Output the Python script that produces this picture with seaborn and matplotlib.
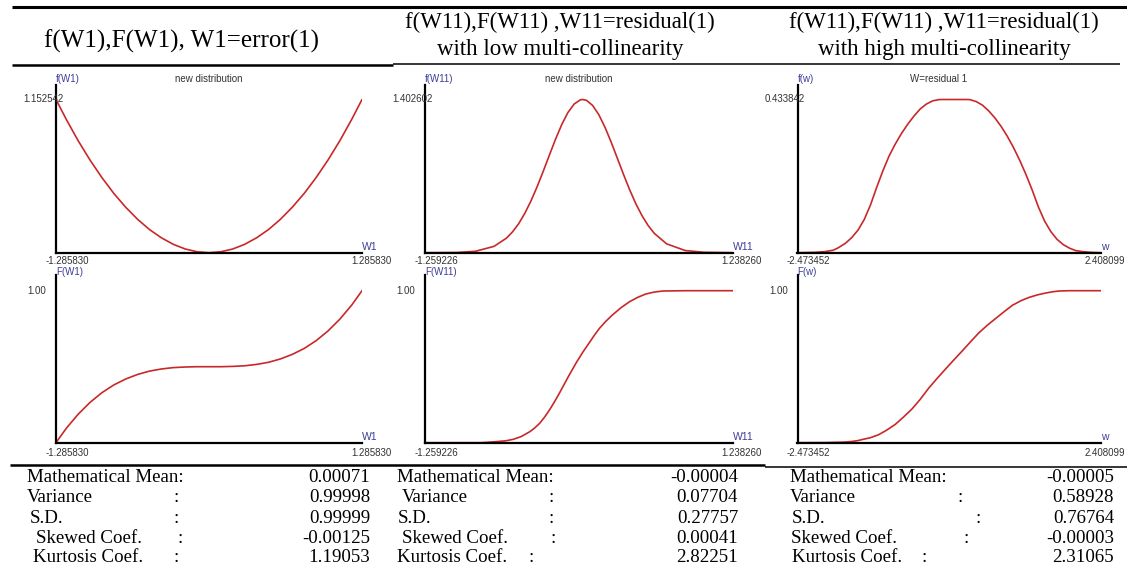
import matplotlib
matplotlib.use("Agg")
import matplotlib.pyplot as plt
import seaborn as sns

# ══════════════════════════════════════════════════════════════
# Data
# ══════════════════════════════════════════════════════════════
HEADER_LINES = [
    ["f(W1),F(W1), W1=error(1)"],
    ["f(W11),F(W11) ,W11=residual(1)", "with low multi-collinearity"],
    ["f(W11),F(W11) ,W11=residual(1)", "with high multi-collinearity"],
]
PANEL_TITLES = ["new distribution", "new distribution", "W=residual 1"]
PDF_NAMES = ["f(W1)", "f(W11)", "f(w)"]
CDF_NAMES = ["F(W1)", "F(W11)", "F(w)"]
AXIS_NAMES = ["W1", "W11", "w"]

X_MIN = [-1.285830, -1.259226, -2.473452]
X_MAX = [1.285830, 1.238260, 2.408099]
PDF_MAX = [1.152542, 1.402602, 0.433842]
CDF_MAX = 1.00

# f(W1), W1 = error(1)
W1_PDF_X = [-1.28583, -1.2, -1.1, -1.0, -0.9, -0.8, -0.7, -0.6, -0.5, -0.4, -0.3, -0.2, -0.1, 0.0,
            0.1, 0.2, 0.3, 0.4, 0.5, 0.6, 0.7, 0.8, 0.9, 1.0, 1.1, 1.2, 1.28583]
W1_PDF_Y = [1.1525, 1.004, 0.843, 0.697, 0.565, 0.446, 0.342, 0.251, 0.174, 0.112, 0.063, 0.028, 0.007, 0.0,
            0.007, 0.028, 0.063, 0.112, 0.174, 0.251, 0.342, 0.446, 0.565, 0.697, 0.843, 1.004, 1.1525]
W1_CDF_X = W1_PDF_X
W1_CDF_Y = [0.0, 0.094, 0.187, 0.265, 0.329, 0.380, 0.419, 0.449, 0.471, 0.485, 0.494, 0.498, 0.500, 0.500,
            0.500, 0.502, 0.506, 0.515, 0.529, 0.551, 0.581, 0.620, 0.671, 0.735, 0.813, 0.906, 1.0]

# f(W11), low multi-collinearity
LOW_PDF_X = [-1.259226, -1.0, -0.85, -0.7, -0.6, -0.55, -0.5, -0.45, -0.4, -0.35, -0.3, -0.25, -0.2,
             -0.15, -0.1, -0.05, 0.0, 0.02, 0.05, 0.1, 0.15, 0.2, 0.25, 0.3, 0.35, 0.4, 0.45, 0.5,
             0.55, 0.6, 0.7, 0.85, 1.0, 1.23826]
LOW_PDF_Y = [0.0, 0.002, 0.013, 0.058, 0.132, 0.190, 0.265, 0.360, 0.474, 0.604, 0.747, 0.895, 1.041,
             1.174, 1.284, 1.361, 1.399, 1.4026, 1.395, 1.348, 1.264, 1.149, 1.013, 0.866, 0.718, 0.577,
             0.449, 0.340, 0.249, 0.177, 0.081, 0.020, 0.004, 0.0]
LOW_CDF_X = [-1.259226, -0.8, -0.68, -0.6, -0.545, -0.48, -0.41, -0.37, -0.33, -0.29, -0.25, -0.21,
             -0.17, -0.13, -0.09, -0.03, 0.02, 0.075, 0.115, 0.155, 0.205, 0.26, 0.33, 0.40, 0.465,
             0.53, 0.60, 0.67, 0.85, 1.23826]
LOW_CDF_Y = [0.0, 0.0, 0.007, 0.013, 0.022, 0.040, 0.072, 0.097, 0.127, 0.168, 0.215, 0.268,
             0.325, 0.385, 0.445, 0.530, 0.595, 0.660, 0.708, 0.752, 0.797, 0.840, 0.888, 0.928, 0.956,
             0.978, 0.991, 0.998, 1.0, 1.0]

# f(w), high multi-collinearity
HIGH_PDF_X = [-2.473452, -2.2, -2.032, -1.9, -1.817, -1.7, -1.6, -1.5, -1.4, -1.3, -1.2, -1.1, -1.0,
              -0.9, -0.8, -0.7, -0.6, -0.5, -0.4, -0.3, -0.2, -0.148, 0.229, 0.3, 0.4, 0.5, 0.6, 0.7,
              0.8, 0.9, 1.0, 1.1, 1.2, 1.3, 1.4, 1.5, 1.6, 1.7, 1.8, 1.9, 2.0, 2.113, 2.25, 2.408099]
HIGH_PDF_Y = [0.0, 0.001, 0.003, 0.007, 0.014, 0.027, 0.043, 0.064, 0.094, 0.135, 0.185, 0.232, 0.274,
              0.308, 0.338, 0.364, 0.387, 0.407, 0.421, 0.430, 0.4335, 0.433842, 0.433842, 0.4335,
              0.428, 0.418, 0.402, 0.382, 0.358, 0.330, 0.298, 0.262, 0.222, 0.178, 0.130, 0.090,
              0.060, 0.038, 0.023, 0.013, 0.006, 0.003, 0.001, 0.0]
HIGH_CDF_X = [-2.473452, -2.0, -1.709, -1.6, -1.5, -1.44, -1.3, -1.171, -1.05, -0.902, -0.77, -0.632,
              -0.5, -0.363, -0.23, -0.094, 0.04, 0.175, 0.31, 0.444, 0.58, 0.713, 0.85, 0.983, 1.12,
              1.252, 1.39, 1.521, 1.63, 1.736, 1.9, 2.408099]
HIGH_CDF_Y = [0.0, 0.001, 0.004, 0.008, 0.014, 0.020, 0.033, 0.052, 0.080, 0.120, 0.168, 0.222,
              0.285, 0.359, 0.422, 0.484, 0.544, 0.603, 0.664, 0.723, 0.773, 0.817, 0.862, 0.904, 0.934,
              0.956, 0.973, 0.985, 0.993, 0.998, 1.0, 1.0]

PDF_X = [W1_PDF_X, LOW_PDF_X, HIGH_PDF_X]
PDF_Y = [W1_PDF_Y, LOW_PDF_Y, HIGH_PDF_Y]
CDF_X = [W1_CDF_X, LOW_CDF_X, HIGH_CDF_X]
CDF_Y = [W1_CDF_Y, LOW_CDF_Y, HIGH_CDF_Y]

STAT_LABELS = ["Mathematical Mean:", "Variance", "S.D.", "Skewed Coef.", "Kurtosis Coef."]
STATS_W1 = [0.00071, 0.99998, 0.99999, -0.00125, 1.19053]
STATS_LOW = [-0.00004, 0.07704, 0.27757, 0.00041, 2.82251]
STATS_HIGH = [-0.00005, 0.58928, 0.76764, -0.00003, 2.31065]
STATS = [STATS_W1, STATS_LOW, STATS_HIGH]

# ══════════════════════════════════════════════════════════════
# Layout (pixels of the 1127x573 image)
# ══════════════════════════════════════════════════════════════
W, H = 1127, 573
AX_LEFT = [56, 425, 797.5]
AX_RIGHT = [362, 733, 1101]
PDF_TOP, PDF_BOTTOM, PDF_PEAK = 85, 252.7, 99.5
CDF_TOP, CDF_BOTTOM, CDF_ONE = 275, 442.7, 290.7
TITLE_DX = [0, 0, -11]
XMAX_DX = [9, 9, 4]

HEADER_X = [182, 560, 944]
STAT_ROWS = [477, 498, 518.5, 538.5, 558]
STAT_LABEL_X = [[27, 27, 30, 36, 33], [397, 402, 398, 402, 397], [790, 790, 792, 791, 792]]
STAT_COLON_X = [[None, 176, 176, 180, 176], [None, 551, 551, 553, 531], [None, 960, 978, 966, 924]]
STAT_VALUE_X = [370, 738, 1114]
STAT_SIZE = 13.6

RED = "#c8282a"
BLUE = "#3d3d99"
GREY = "#333333"
SERIF = ["Liberation Serif", "DejaVu Serif"]

sns.set_style("white")
plt.rcParams["font.family"] = ["Liberation Sans", "DejaVu Sans"]

fig = plt.figure(figsize=(W / 100, H / 100), dpi=100)

# background axes in pixel coordinates for rules, headers and stats
bg = fig.add_axes([0, 0, 1, 1])
bg.set_xlim(0, W)
bg.set_ylim(H, 0)
bg.axis("off")


def px_axes(left, right, top, bottom):
    return fig.add_axes([left / W, 1 - bottom / H, (right - left) / W, (bottom - top) / H])


def style_panel(ax):
    for side in ("top", "right"):
        ax.spines[side].set_visible(False)
    for side in ("left", "bottom"):
        ax.spines[side].set_color("black")
        ax.spines[side].set_linewidth(1.6)
    ax.set_xticks([])
    ax.tick_params(axis="y", length=2.5, width=1.5, direction="out", labelleft=False, pad=0)
    ax.set_xlabel("")
    ax.set_ylabel("")
    ax.patch.set_alpha(0)


def small(ax, txt, xy, xycoords, dx, dy, ha, va, color=GREY, size=7):
    ax.annotate(txt, xy=xy, xycoords=xycoords, xytext=(dx, dy), textcoords="offset pixels",
                ha=ha, va=va, fontsize=size, color=color, annotation_clip=False)


for i in range(3):
    # ── density panel ──
    ax = px_axes(AX_LEFT[i], AX_RIGHT[i], PDF_TOP, PDF_BOTTOM)
    sns.lineplot(x=PDF_X[i], y=PDF_Y[i], ax=ax, color=RED, linewidth=1.2, sort=False)
    ytop = PDF_MAX[i] * (PDF_BOTTOM - PDF_TOP) / (PDF_BOTTOM - PDF_PEAK)
    ax.set_xlim(X_MIN[i], X_MAX[i])
    ax.set_ylim(0, ytop)
    style_panel(ax)
    ax.set_yticks([PDF_MAX[i]])
    ytr = ax.get_yaxis_transform()
    small(ax, f"{PDF_MAX[i]:.6f}", (0, PDF_MAX[i]), ytr, 7.5, 0, "right", "center")
    small(ax, PDF_NAMES[i], (0, 1), "axes fraction", 0, 6, "left", "center", BLUE)
    small(ax, PANEL_TITLES[i], (0.5, 1), "axes fraction", TITLE_DX[i], 6, "center", "center")
    small(ax, f"{X_MIN[i]:.6f}", (X_MIN[i], 0), "data", 11, -8.5, "center", "center")
    small(ax, f"{X_MAX[i]:.6f}", (X_MAX[i], 0), "data", XMAX_DX[i], -8.5, "center", "center")
    small(ax, AXIS_NAMES[i], (X_MAX[i], 0), "data", 0, 1, "left", "bottom", BLUE, 7.5)

    # ── distribution panel ──
    ax = px_axes(AX_LEFT[i], AX_RIGHT[i], CDF_TOP, CDF_BOTTOM)
    sns.lineplot(x=CDF_X[i], y=CDF_Y[i], ax=ax, color=RED, linewidth=1.2, sort=False)
    ytop = CDF_MAX * (CDF_BOTTOM - CDF_TOP) / (CDF_BOTTOM - CDF_ONE)
    ax.set_xlim(X_MIN[i], X_MAX[i])
    ax.set_ylim(0, ytop)
    style_panel(ax)
    ax.set_yticks([CDF_MAX])
    ytr = ax.get_yaxis_transform()
    small(ax, f"{CDF_MAX:.2f}", (0, CDF_MAX), ytr, -9.5, 0, "right", "center")
    small(ax, CDF_NAMES[i], (0, 1), "axes fraction", 0, 3, "left", "center", BLUE)
    small(ax, f"{X_MIN[i]:.6f}", (X_MIN[i], 0), "data", 11, -10.5, "center", "center")
    small(ax, f"{X_MAX[i]:.6f}", (X_MAX[i], 0), "data", XMAX_DX[i], -10.5, "center", "center")
    small(ax, AXIS_NAMES[i], (X_MAX[i], 0), "data", 0, 1, "left", "bottom", BLUE, 7.5)

# ── table rules ──
bg.plot([12, W], [7, 7], color="black", lw=2.2, solid_capstyle="butt")
bg.plot([12, 393], [65, 65], color="black", lw=1.8, solid_capstyle="butt")
bg.plot([393, 1120], [63.5, 63.5], color="black", lw=1.1, solid_capstyle="butt")
bg.plot([10, 765], [465, 465], color="black", lw=1.8, solid_capstyle="butt")
bg.plot([765, W], [466.5, 466.5], color="black", lw=1.1, solid_capstyle="butt")

# ── headers ──
bg.text(HEADER_X[0], 41, HEADER_LINES[0][0], ha="center", va="center",
        fontsize=18, family=SERIF, color="black")
for i in (1, 2):
    for k, line in enumerate(HEADER_LINES[i]):
        bg.text(HEADER_X[i], 22 + 27 * k, line, ha="center", va="center",
                fontsize=16.5, family=SERIF, color="black")

# ── statistics ──
for i in range(3):
    for r, label in enumerate(STAT_LABELS):
        y = STAT_ROWS[r]
        bg.text(STAT_LABEL_X[i][r], y, label, ha="left", va="center",
                fontsize=STAT_SIZE, family=SERIF, color="black")
        if STAT_COLON_X[i][r] is not None:
            bg.text(STAT_COLON_X[i][r], y, ":", ha="center", va="center",
                    fontsize=STAT_SIZE, family=SERIF, color="black")
        bg.text(STAT_VALUE_X[i], y, f"{STATS[i][r]:.5f}", ha="right", va="center",
                fontsize=STAT_SIZE, family=SERIF, color="black")

fig.savefig("out.png", dpi=100)
plt.close(fig)
